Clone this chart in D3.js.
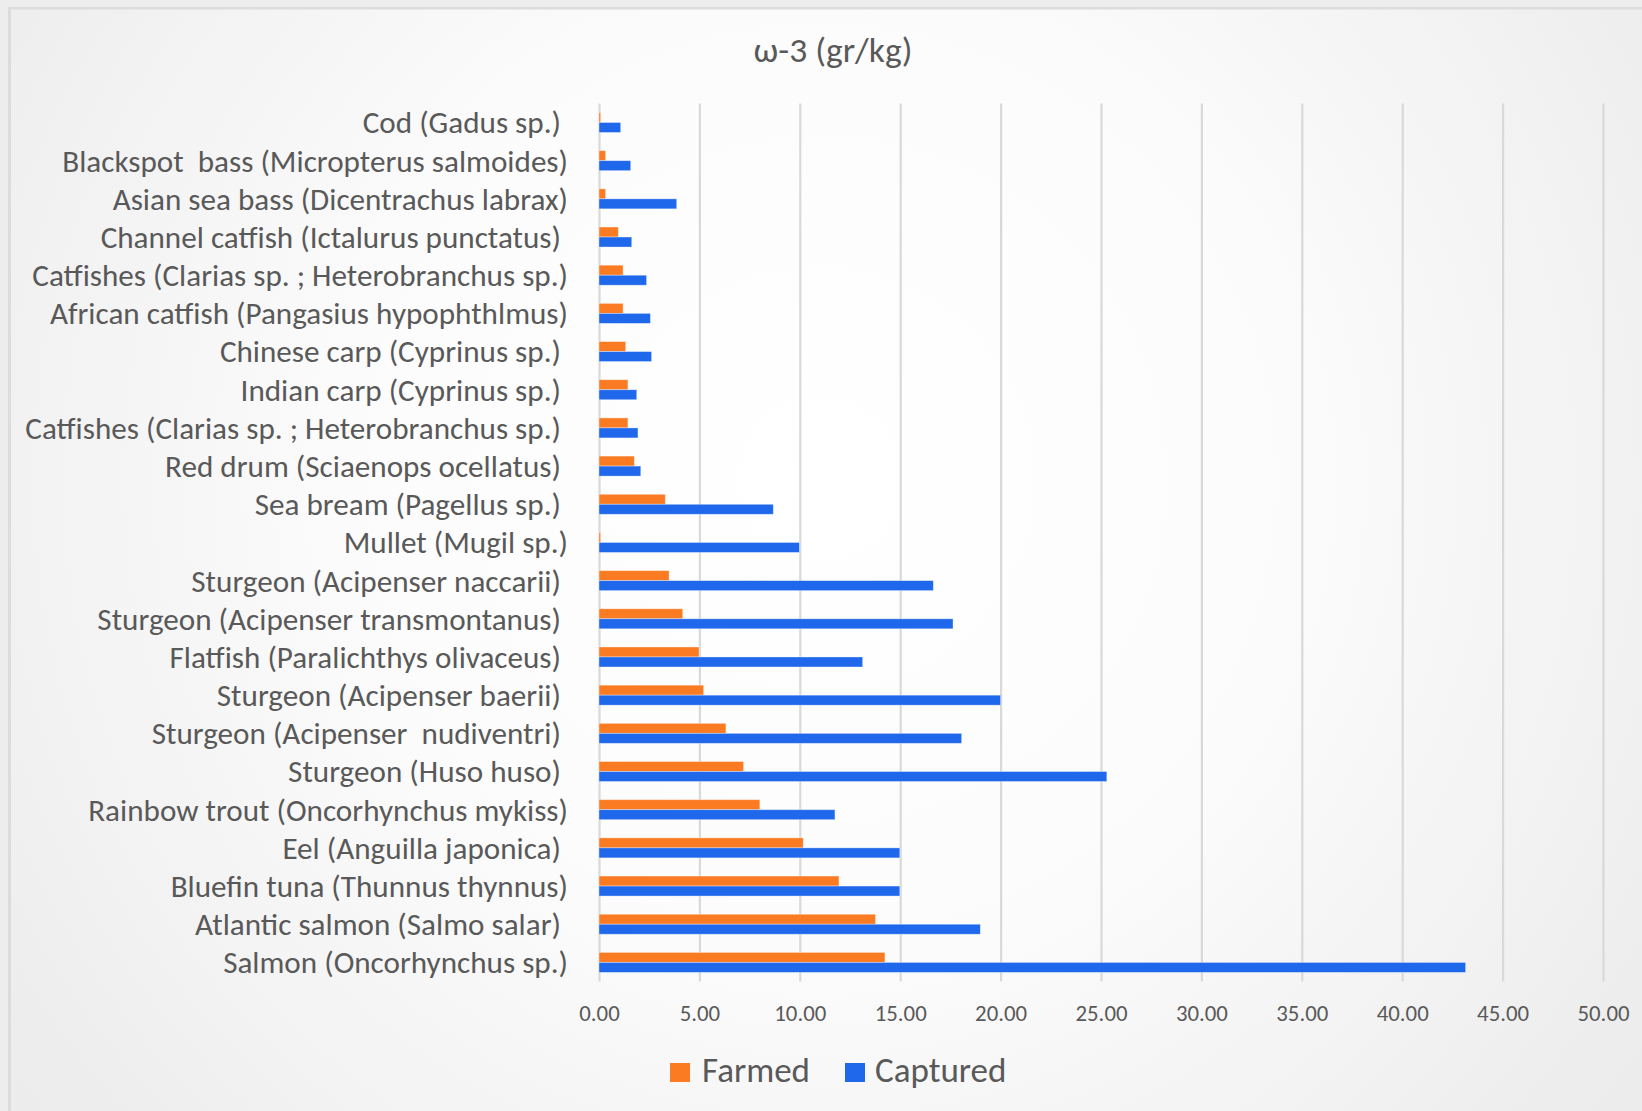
<!DOCTYPE html>
<html>
<head>
<meta charset="utf-8">
<script src="https://cdn.jsdelivr.net/npm/d3@7"></script>
<style>
  html, body { margin: 0; padding: 0; background: #ededed; }
  svg { display: block; }
  text { white-space: pre; }
</style>
</head>
<body>
<svg id="chart" width="1642" height="1111"></svg>
<script>
// Omega-3 content (gr/kg), listed top to bottom
const categories = [
  "Cod (Gadus sp.) ",
  "Blackspot  bass (Micropterus salmoides)",
  "Asian sea bass (Dicentrachus labrax)",
  "Channel catfish (Ictalurus punctatus) ",
  "Catfishes (Clarias sp. ; Heterobranchus sp.)",
  "African catfish (Pangasius hypophthlmus)",
  "Chinese carp (Cyprinus sp.) ",
  "Indian carp (Cyprinus sp.) ",
  "Catfishes (Clarias sp. ; Heterobranchus sp.) ",
  "Red drum (Sciaenops ocellatus) ",
  "Sea bream (Pagellus sp.) ",
  "Mullet (Mugil sp.)",
  "Sturgeon (Acipenser naccarii) ",
  "Sturgeon (Acipenser transmontanus) ",
  "Flatfish (Paralichthys olivaceus) ",
  "Sturgeon (Acipenser baerii) ",
  "Sturgeon (Acipenser  nudiventri) ",
  "Sturgeon (Huso huso) ",
  "Rainbow trout (Oncorhynchus mykiss)",
  "Eel (Anguilla japonica) ",
  "Bluefin tuna (Thunnus thynnus)",
  "Atlantic salmon (Salmo salar) ",
  "Salmon (Oncorhynchus sp.)"
];
const farmed = [
  0.08, 0.33, 0.33, 0.96, 1.20, 1.20, 1.33, 1.44, 1.44, 1.76, 3.30, 0.08,
  3.49, 4.17, 4.98, 5.21, 6.32, 7.20, 8.01, 10.17, 11.95, 13.77, 14.24
];
const captured = [
  1.08, 1.58, 3.87, 1.63, 2.37, 2.56, 2.62, 1.88, 1.94, 2.08, 8.68, 9.98,
  16.65, 17.63, 13.13, 20.00, 18.06, 25.29, 11.75, 14.98, 14.98, 18.99, 43.16
];
const seriesNames = ["Farmed", "Captured"];
const seriesColors = ["#FA7B22", "#1F67EB"];
const xTicks = [0, 5, 10, 15, 20, 25, 30, 35, 40, 45, 50];
const titleText = "ω-3 (gr/kg)";

const W = 1642, H = 1111;
const FONT = "Carlito, Calibri, Lato, 'Open Sans', sans-serif";
const TEXT_COLOR = "#595959";

const svg = d3.select("#chart");

// Slide-like backdrop with a framed, softly shaded panel
const defs = svg.append("defs");
const grad = defs.append("radialGradient")
  .attr("id", "panelShade")
  .attr("gradientUnits", "userSpaceOnUse")
  .attr("cx", 820).attr("cy", 480).attr("r", 1000);
grad.append("stop").attr("offset", "0%").attr("stop-color", "#ffffff");
grad.append("stop").attr("offset", "45%").attr("stop-color", "#fcfcfc");
grad.append("stop").attr("offset", "100%").attr("stop-color", "#ececec");

svg.append("rect").attr("width", W).attr("height", H).attr("fill", "#ededed");
svg.append("rect").attr("x", 8).attr("y", 7).attr("width", W - 8).attr("height", H - 7)
  .attr("fill", "#dcdcdc");
svg.append("rect").attr("x", 11).attr("y", 9.5).attr("width", W - 11).attr("height", H - 9.5)
  .attr("fill", "url(#panelShade)");

// Pick a font size so a string spans the given width in the active font
function fitSize(str, targetWidth, weight) {
  const t = svg.append("text").attr("font-family", FONT).attr("font-size", 100)
    .attr("font-weight", weight || 400).text(str);
  const w = t.node().getComputedTextLength();
  t.remove();
  return 100 * targetWidth / w;
}

const x = d3.scaleLinear().domain([0, 50]).range([599, 1603]);
const y = d3.scaleBand().domain(categories).range([103.4, 981.5])
  .paddingInner(0.476).paddingOuter(0.238);
const ySub = d3.scaleBand().domain(seriesNames).range([0, y.bandwidth()]);

// Vertical gridlines
const grid = svg.append("g")
  .attr("transform", `translate(0,${y.range()[1]})`)
  .call(d3.axisBottom(x).tickValues(xTicks)
    .tickSize(-(y.range()[1] - y.range()[0])).tickFormat(""));
grid.select(".domain").remove();
grid.selectAll(".tick line").attr("stroke", "#d9d9d9").attr("stroke-width", 2.2);

// Tick labels
const tickSize = fitSize("45.00", 52);
const xAxis = svg.append("g")
  .attr("transform", `translate(0,${y.range()[1]})`)
  .call(d3.axisBottom(x).tickValues(xTicks).tickSize(0).tickPadding(0)
    .tickFormat(d3.format(".2f")));
xAxis.select(".domain").remove();
xAxis.selectAll(".tick text")
  .attr("font-family", FONT).attr("font-size", tickSize)
  .attr("fill", TEXT_COLOR)
  .attr("y", 1012.7 - y.range()[1]).attr("dy", "0.35em");

// Category labels
const labelSize = fitSize("Catfishes (Clarias sp. ; Heterobranchus sp.)", 536);
const yAxis = svg.append("g")
  .attr("transform", "translate(568,0)")
  .call(d3.axisLeft(y).tickSize(0).tickPadding(0));
yAxis.select(".domain").remove();
yAxis.selectAll(".tick text")
  .attr("font-family", FONT).attr("font-size", labelSize)
  .attr("fill", TEXT_COLOR).attr("x", 0).attr("dy", "0.35em")
  .attr("text-anchor", "end");

// Bars
const rows = categories.map((c, i) => ({ c, values: [farmed[i], captured[i]] }));
const groups = svg.append("g").selectAll("g").data(rows).join("g")
  .attr("transform", d => `translate(0,${y(d.c)})`);
groups.selectAll("rect")
  .data(d => d.values.map((v, k) => ({ k, v })))
  .join("rect")
  .attr("x", x(0))
  .attr("y", d => ySub(seriesNames[d.k]))
  .attr("width", d => x(d.v) - x(0))
  .attr("height", ySub.bandwidth())
  .attr("fill", d => seriesColors[d.k])
  .attr("stroke", "#ffffff").attr("stroke-opacity", 0.45).attr("stroke-width", 0.8);

// Title
const titleSize = fitSize(titleText, 159, 300);
svg.append("text")
  .attr("x", 833).attr("y", 50).attr("dy", "0.35em")
  .attr("text-anchor", "middle")
  .attr("font-family", FONT).attr("font-weight", 300)
  .attr("font-size", titleSize).attr("fill", TEXT_COLOR)
  .text(titleText);

// Legend
const legendSize = fitSize("Farmed", 108);
const legendItems = [
  { name: seriesNames[0], color: seriesColors[0], sx: 670, tx: 702 },
  { name: seriesNames[1], color: seriesColors[1], sx: 845, tx: 875 }
];
const legend = svg.append("g");
legend.selectAll("rect").data(legendItems).join("rect")
  .attr("x", d => d.sx).attr("y", 1063).attr("width", 20).attr("height", 19)
  .attr("fill", d => d.color);
legend.selectAll("text").data(legendItems).join("text")
  .attr("x", d => d.tx).attr("y", 1082)
  .attr("font-family", FONT).attr("font-size", legendSize)
  .attr("fill", TEXT_COLOR)
  .text(d => d.name);
</script>
</body>
</html>
